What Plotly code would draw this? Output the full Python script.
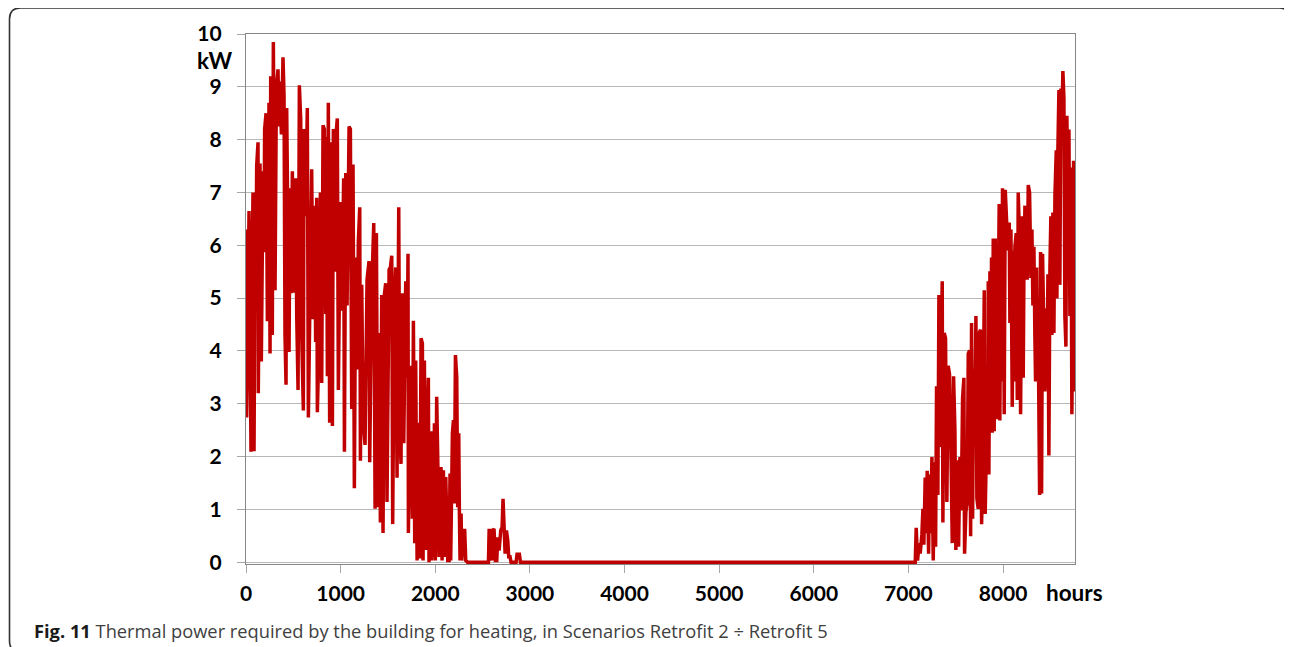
import plotly.graph_objects as go

# ---- data (hour of year, kW) ----
hours = [
    0, 7, 32, 42, 53, 64, 74, 85, 95, 102, 113, 127, 130, 148, 162, 180, 190, 197, 212, 226,
    243, 254, 261, 278, 289, 307, 321, 338, 349, 359, 374, 391, 402, 412, 423, 430, 437, 455, 465, 476,
    490, 500, 515, 525, 536, 550, 564, 578, 589, 606, 613, 631, 648, 659, 673, 694, 708, 726, 736, 747,
    754, 772, 786, 800, 814, 828, 842, 849, 860, 870, 884, 899, 913, 923, 937, 951, 965, 976,
    997, 1011, 1032, 1040, 1054, 1068, 1089, 1103, 1117, 1131, 1145, 1159, 1173, 1187, 1202, 1209,
    1223, 1237, 1258, 1279, 1300, 1307, 1328, 1350, 1364, 1378, 1392, 1406, 1420, 1434, 1448, 1462,
    1476, 1490, 1512, 1526, 1540, 1550, 1568, 1582, 1596, 1614, 1624, 1638, 1652, 1667, 1688, 1702,
    1712, 1716, 1730, 1744, 1758, 1769, 1783, 1793, 1808, 1822, 1836, 1850, 1864, 1871, 1885, 1899,
    1913, 1927, 1934, 1955, 1962, 1973, 1980, 1991, 2001, 2015, 2030, 2040, 2061, 2072, 2086, 2096,
    2111, 2121, 2132, 2146, 2156, 2163, 2174, 2181, 2192, 2202, 2213, 2227, 2237, 2248, 2255, 2262,
    2273, 2280, 2297, 2311, 2322, 2340, 2562, 2569, 2586, 2597, 2607, 2621, 2635, 2650, 2660, 2674,
    2692, 2706, 2716, 2724, 2738, 2752, 2766, 2776, 2790, 2801, 2854, 2864, 2889, 2900,
    7072, 7082, 7096, 7114, 7124, 7142, 7153, 7163, 7177, 7188, 7198, 7213, 7223, 7234, 7248, 7262,
    7276, 7287, 7297, 7311, 7322, 7332, 7346, 7357, 7364, 7378, 7392, 7406, 7420, 7434, 7449, 7463,
    7477, 7491, 7501, 7516, 7530, 7544, 7558, 7572, 7586, 7593, 7607, 7621, 7632, 7646, 7657, 7667,
    7678, 7688, 7702, 7713, 7723, 7737, 7748, 7762, 7773, 7787, 7801, 7811, 7822, 7840,
    7843, 7850, 7861, 7871, 7878, 7885, 7896, 7906, 7917, 7928, 7938, 7949, 7959, 7966, 7977, 7984,
    7994, 8005, 8012, 8023, 8037, 8051, 8065, 8072, 8083, 8097, 8107, 8118, 8125, 8139, 8150, 8160,
    8171, 8185, 8199, 8213, 8220, 8231, 8241, 8255, 8266, 8280, 8294, 8305, 8315, 8326, 8336, 8343,
    8354, 8364, 8375, 8386, 8396, 8407, 8417, 8428, 8442, 8452, 8463, 8474, 8484, 8495, 8505, 8516,
    8526, 8537, 8548, 8562, 8569, 8579, 8590, 8600, 8611, 8622, 8632, 8643, 8653, 8664, 8674, 8685,
    8696, 8706, 8717, 8727, 8738, 8745, 8752, 8760,
]
kw = [
    6.3, 2.74, 6.65, 4.2, 2.09, 5.5, 7.0, 2.1, 6.0, 4.86, 7.5, 7.95, 3.2, 7.55, 3.8, 7.4, 5.87, 8.2, 8.5, 4.56,
    8.7, 3.95, 9.2, 4.3, 9.85, 5.15, 8.97, 9.33, 8.25, 9.1, 8.1, 9.56, 8.84, 4.3, 3.36, 8.6, 7.6, 3.98, 7.08, 5.09,
    7.4, 5.1, 5.87, 7.27, 4.66, 3.26, 9.03, 8.38, 4.27, 2.87, 8.2, 6.55, 8.6, 2.74, 4.6, 7.44, 4.6, 6.75, 4.17, 6.9,
    2.84, 4.2, 7.0, 3.39, 8.27, 8.2, 4.7, 8.05, 3.52, 8.7, 2.64, 7.95, 2.58, 8.2, 5.5, 8.1, 8.4, 3.26,
    6.82, 4.76, 7.27, 2.09, 7.37, 4.86, 8.25, 8.2, 2.9, 7.53, 1.4, 5.77, 3.65, 6.07, 6.72, 1.92,
    5.25, 2.7, 2.22, 5.35, 5.7, 1.89, 5.09, 6.42, 1.01, 6.23, 1.04, 4.34, 0.75, 5.06, 0.55, 5.06,
    5.28, 1.14, 5.54, 5.58, 5.8, 0.72, 4.92, 5.58, 1.6, 6.72, 2.58, 1.86, 5.09, 2.25, 5.32, 3.49,
    5.84, 0.55, 2.58, 3.72, 0.82, 4.57, 0.36, 3.82, 0.03, 2.64, 0.07, 4.24, 4.14, 0.03, 3.82, 0.23,
    2.45, 3.49, 0.0, 2.48, 0.03, 2.31, 0.1, 2.63, 0.03, 3.13, 1.55, 0.1, 1.8, 0.03, 1.74, 0.1,
    1.61, 1.04, 0.03, 0.03, 1.68, 0.03, 1.8, 2.44, 2.69, 1.11, 3.92, 3.51, 1.04, 2.44, 0.92, 0.03,
    0.92, 0.03, 0.6, 0.6, 0.03, 0.0, 0.0, 0.6, 0.6, 0.03, 0.6, 0.63, 0.03, 0.03, 0.47, 0.22,
    0.6, 0.66, 1.2, 0.6, 0.16, 0.6, 0.41, 0.1, 0.1, 0.0, 0.0, 0.15, 0.15, 0.0,
    0.0, 0.65, 0.03, 0.36, 0.16, 0.52, 1.01, 0.33, 1.6, 0.55, 1.73, 0.16, 1.66, 0.55, 1.99, 0.03,
    1.89, 0.29, 3.33, 1.27, 5.06, 2.18, 3.88, 5.32, 0.75, 4.34, 4.24, 1.14, 3.72, 3.56, 2.15, 0.36,
    3.52, 2.51, 0.23, 1.93, 0.29, 1.99, 0.98, 3.1, 3.49, 0.16, 0.95, 1.14, 3.95, 4.01, 0.49, 4.53,
    0.82, 3.65, 2.71, 4.66, 1.21, 1.01, 4.34, 4.4, 0.72, 1.99, 5.15, 0.91, 1.99, 2.02,
    5.32, 1.66, 5.51, 3.56, 5.77, 2.45, 6.13, 2.48, 6.13, 2.71, 3.0, 5.38, 6.78, 2.68, 6.3, 3.42,
    7.08, 5.9, 2.8, 7.05, 6.55, 5.9, 6.43, 4.53, 6.3, 2.94, 5.9, 3.42, 5.97, 6.23, 3.07, 7.0,
    6.3, 2.8, 6.55, 3.49, 5.45, 6.75, 5.38, 5.38, 7.14, 7.0, 5.38, 6.3, 4.86, 5.97, 4.3, 3.42,
    5.58, 3.42, 3.56, 1.27, 5.87, 1.3, 5.84, 4.34, 3.23, 4.8, 3.3, 5.45, 2.02, 5.58, 6.55, 4.3,
    6.62, 4.34, 6.95, 7.8, 4.99, 7.8, 8.94, 5.25, 8.97, 8.38, 9.3, 8.78, 4.66, 4.08, 8.45, 6.95,
    8.19, 4.66, 7.47, 2.8, 7.0, 7.6, 3.23, 6.55,
]
x_ticks = [0, 1000, 2000, 3000, 4000, 5000, 6000, 7000, 8000]
y_ticks = [0, 1, 2, 3, 4, 5, 6, 7, 8, 9, 10]
y_unit = "kW"
x_unit = "hours"
caption_bold = "Fig. 11"
caption_text = "Thermal power required by the building for heating, in Scenarios Retrofit 2 ÷ Retrofit 5"

# ---- layout geometry (screen pixels; the page body adds an 8 px offset) ----
OFF = 8
W, H = 1292 - OFF, 647 - OFF
L, R, T, B = 246, 1075, 34, 564   # plot area on screen


def px(x):
    return (x - L) / (R - L)


def py(y):
    return (B - y) / (B - T)


tick_font = dict(family="Lato", size=21, color="black", weight="bold")
unit_font = dict(family="Lato", size=22.5, color="black", weight="bold")

fig = go.Figure(
    go.Scatter(
        x=hours, y=kw, mode="lines",
        line=dict(color="#C00000", width=3.5),
        hoverinfo="skip",
    )
)

fig.update_layout(
    width=W, height=H, autosize=False,
    margin=dict(l=L - OFF, r=W - (R - OFF), t=T - OFF, b=H - (B - OFF), pad=0),
    paper_bgcolor="white", plot_bgcolor="white",
    showlegend=False,
)

fig.update_xaxes(
    range=[0, 8760], tickmode="array", tickvals=x_ticks,
    ticktext=[str(v) for v in x_ticks],
    ticks="outside", ticklen=8, tickcolor="#A6A6A6", tickwidth=1,
    showgrid=False, zeroline=False,
    showline=True, mirror=True, linecolor="#868686", linewidth=1.3,
    tickfont=tick_font, ticklabelstandoff=3,
)
fig.update_yaxes(
    range=[-0.035, 10], tickmode="array", tickvals=y_ticks,
    ticktext=[str(v) for v in y_ticks],
    ticks="outside", ticklen=8, tickcolor="#A6A6A6", tickwidth=1,
    showgrid=True, gridcolor="#B8B8B8", gridwidth=1, zeroline=False,
    showline=True, mirror=True, linecolor="#868686", linewidth=1.3,
    tickfont=tick_font, ticklabelstandoff=11,
)

annotations = [
    dict(text=y_unit, xref="paper", yref="paper", x=px(234), y=py(61),
         xanchor="right", yanchor="middle", showarrow=False, font=unit_font),
    dict(text=x_unit, xref="paper", yref="paper", x=px(1044), y=py(592),
         xanchor="left", yanchor="middle", showarrow=False, font=unit_font),
    dict(text=f"<b>{caption_bold}</b> <span style='color:#404040'>{caption_text}</span>",
         xref="paper", yref="paper", x=px(32), y=py(630),
         xanchor="left", yanchor="middle", showarrow=False,
         font=dict(family="Open Sans", size=18.3, color="#1a1a1a")),
]
fig.update_layout(annotations=annotations)

# rounded frame around the figure (screen coordinates)
x0, x1, y0, y1, r = 9.5, 1290, 8, 652, 11


def P(x, y):
    return f"{px(x):.5f},{py(y):.5f}"


path = (
    f"M {P(x0 + r, y0)} L {P(x1 - r, y0)} Q {P(x1, y0)} {P(x1, y0 + r)} "
    f"L {P(x1, y1 - r)} Q {P(x1, y1)} {P(x1 - r, y1)} "
    f"L {P(x0 + r, y1)} Q {P(x0, y1)} {P(x0, y1 - r)} "
    f"L {P(x0, y0 + r)} Q {P(x0, y0)} {P(x0 + r, y0)} Z"
)
fig.add_shape(type="path", path=path, xref="paper", yref="paper",
              line=dict(color="#333333", width=1.6), fillcolor="rgba(0,0,0,0)",
              layer="above")

fig.write_html("out.html")
